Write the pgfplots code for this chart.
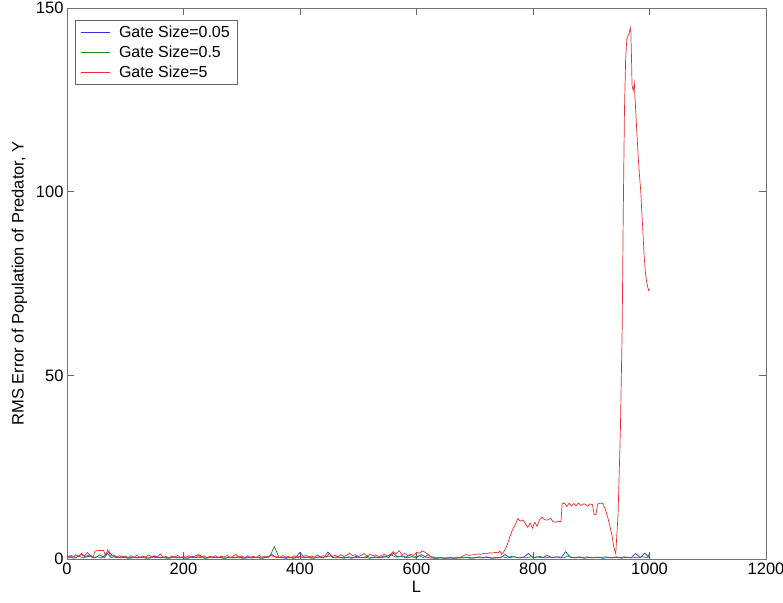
\documentclass[border=0pt]{standalone}
\usepackage{fontspec}
\setmainfont{Liberation Sans}
\usepackage{pgfplots}
\pgfplotsset{compat=1.18}

\definecolor{mblue}{RGB}{50,50,230}
\definecolor{mgreen}{RGB}{20,140,40}
\definecolor{mred}{RGB}{235,45,45}
\newcommand{\lblfont}{\fontsize{16.5}{19}\selectfont}
\newcommand{\legfont}{\fontsize{16}{19}\selectfont}

\begin{document}
\begin{tikzpicture}
  \begin{axis}[
    name=ax,
    scale only axis,
    width=699pt, height=551pt,
    xmin=0, xmax=1200, ymin=0, ymax=150,
    xtick={0,200,...,1200},
    ytick={0,50,100,150},
    xtick pos=both, ytick pos=both,
    tick align=inside,
    major tick length=7pt,
    axis line style={black!55, line width=0.8pt},
    every tick/.style={black!60, line width=0.8pt},
    /pgf/number format/assume math mode=true,
    /pgf/number format/1000 sep={},
    tick label style={font=\lblfont},
    label style={font=\lblfont},
    xlabel={L},
    ylabel={RMS Error of Population of Predator, Y},
    ylabel style={yshift=2pt},
    legend style={at={(0.0115,0.978)}, anchor=north west, draw=black!60,
      font=\legfont, row sep=2.5pt, inner xsep=5pt, inner ysep=4pt},
    legend cell align=left,
    legend image code/.code={\draw[#1, line width=0.9pt] (3pt,0pt) -- (32pt,0pt); \path (39pt,0pt);},
  ]
    % Gate Size = 0.05
    \addplot[mblue, line width=0.7pt] coordinates {
      (0,0.3) (8,0.9) (16,0.4) (24,1.3) (32,0.5) (40,0.8) (48,0.3) (56,1.1) (64,0.4) (72,2.0)
      (80,0.6) (88,0.3) (96,0.7) (104,0.2) (112,0.5) (120,0.3) (128,0.6) (136,0.2) (144,0.4) (152,0.8)
      (160,0.3) (168,0.5) (176,0.2) (184,0.6) (192,0.3) (200,0.4) (208,0.2) (216,0.7) (224,0.3) (232,0.5)
      (240,0.2) (248,0.6) (256,0.3) (264,0.4) (272,0.2) (280,0.5) (288,0.3) (296,0.6) (304,0.2) (312,0.4)
      (320,0.3) (328,0.5) (336,0.2) (344,0.6) (352,1.2) (360,0.3) (368,0.5) (376,0.2) (384,0.4) (392,0.3)
      (400,1.8) (408,0.3) (416,0.5) (424,0.2) (432,0.6) (440,0.3) (448,1.9) (456,0.4) (464,0.6) (472,0.3)
      (480,0.5) (488,0.2) (496,0.7) (504,0.3) (512,0.5) (520,0.2) (528,0.6) (536,0.3) (544,0.8) (552,0.4)
      (560,1.6) (568,0.5) (576,0.9) (584,0.3) (592,0.6) (600,0.4) (608,1.2) (616,0.5) (624,0.3) (632,0.2)
      (640,0.4) (648,0.2) (656,0.3) (664,0.2) (672,0.4) (680,0.3) (688,0.5) (696,0.2) (704,0.4) (712,0.3)
      (720,0.6) (728,0.2) (736,0.4) (744,0.3) (752,1.2) (760,0.4) (768,0.6) (776,0.3) (784,0.5) (792,1.5)
      (800,0.4) (808,0.6) (816,0.3) (824,1.0) (832,0.4) (840,0.6) (848,0.3) (856,2.0) (864,0.5) (872,0.3)
      (880,0.6) (888,0.2) (896,0.4) (904,0.3) (912,0.5) (920,0.2) (928,0.4) (936,0.3) (944,0.6) (952,0.2)
      (960,0.5) (968,0.3) (976,1.5) (984,0.4) (992,1.6) (1000,0.3)
    };
    \addlegendentry{Gate Size=0.05}
    % Gate Size = 0.5
    \addplot[mgreen, line width=0.7pt] coordinates {
      (4,0.5) (12,0.2) (20,0.8) (28,0.3) (36,1.0) (44,0.4) (52,0.6) (60,0.3) (68,1.6) (76,0.4)
      (84,0.7) (92,0.3) (100,0.5) (108,0.2) (116,0.4) (124,0.3) (132,0.6) (140,0.2) (148,0.5) (156,0.3)
      (164,0.4) (172,0.2) (180,0.6) (188,0.3) (196,0.4) (204,0.2) (212,0.5) (220,0.3) (228,1.1) (236,0.2)
      (244,0.4) (252,0.3) (260,0.5) (268,0.2) (276,0.4) (284,0.3) (292,0.6) (300,0.2) (308,0.4) (316,0.3)
      (324,0.5) (332,0.2) (340,0.4) (348,0.6) (356,3.4) (364,0.4) (372,0.3) (380,0.5) (388,0.2) (396,0.4)
      (404,0.3) (412,0.5) (420,0.2) (428,0.4) (436,0.3) (444,0.6) (452,0.8) (460,0.3) (468,0.5) (476,0.2)
      (484,0.6) (492,0.3) (500,0.5) (508,0.4) (516,0.7) (524,0.3) (532,0.5) (540,0.4) (548,0.6) (556,1.2)
      (564,0.5) (572,0.8) (580,0.4) (588,1.0) (596,0.5) (604,0.9) (612,0.4) (620,1.1) (628,0.3) (636,0.2)
      (644,0.3) (652,0.2) (660,0.4) (668,0.2) (676,0.3) (684,0.5) (692,0.2) (700,0.4) (708,0.6) (716,0.3)
      (724,0.5) (732,0.2) (740,0.4) (748,0.6) (756,0.3) (764,0.8) (772,0.4) (780,0.5) (788,0.3) (796,0.6)
      (804,0.4) (812,0.7) (820,0.3) (828,0.5) (836,0.4) (844,0.6) (852,0.3) (860,0.8) (868,0.4) (876,0.5)
      (884,0.3) (892,0.6) (900,0.4) (908,0.5) (916,0.3) (924,0.6) (932,0.4) (940,0.5) (948,0.3) (956,0.6)
      (964,0.4) (972,0.5) (980,0.3) (988,0.6) (996,0.4) (1000,1.6)
    };
    \addlegendentry{Gate Size=0.5}
    % Gate Size = 5
    \addplot[mred, line width=0.7pt] coordinates {
      (1,0.6) (5,0.9) (10,0.4) (15,1.2) (20,0.7) (25,1.5) (30,0.8) (35,1.8) (40,1.0) (45,0.6)
      (48,2.2) (55,2.3) (63,2.3) (66,0.9) (70,2.5) (75,0.8) (80,1.1) (85,0.6) (90,0.9) (95,0.5)
      (100,0.8) (105,0.4) (110,0.9) (115,0.5) (120,1.0) (125,0.4) (130,0.8) (135,0.5) (140,1.1) (145,0.6)
      (150,0.9) (155,0.4) (160,1.4) (165,0.5) (170,0.7) (175,0.3) (180,0.8) (185,0.5) (190,1.0) (195,0.4)
      (200,0.7) (205,0.5) (210,0.9) (215,0.4) (220,0.8) (225,1.2) (230,0.5) (235,0.9) (240,0.4) (245,0.7)
      (250,0.5) (255,0.9) (260,0.4) (265,0.8) (270,0.5) (275,1.0) (280,0.4) (285,0.7) (290,1.3) (295,0.5)
      (300,0.8) (305,0.4) (310,0.9) (315,0.5) (320,0.7) (325,0.4) (330,1.0) (335,0.5) (340,0.8) (345,0.4)
      (350,1.1) (355,0.6) (360,0.8) (365,0.4) (370,0.9) (375,0.5) (380,0.7) (385,0.4) (390,0.9) (395,0.5)
      (400,0.8) (405,0.5) (410,1.0) (415,0.6) (420,0.8) (425,0.5) (430,1.1) (435,0.6) (440,0.9) (445,0.5)
      (450,1.4) (455,0.7) (460,1.0) (465,0.6) (470,1.2) (475,0.7) (480,1.0) (485,1.6) (490,0.9) (495,1.2)
      (500,0.7) (505,1.0) (510,1.5) (515,0.8) (520,1.3) (525,0.9) (530,1.1) (535,0.6) (540,1.0) (545,1.3)
      (550,0.8) (555,1.2) (560,2.0) (565,1.4) (570,2.3) (575,1.2) (580,1.5) (585,0.9) (590,1.3) (595,1.0)
      (600,1.8) (605,1.6) (610,2.2) (615,1.8) (620,1.2) (625,0.6) (630,0.5) (635,0.3) (640,0.4) (645,0.3)
      (650,0.3) (655,0.4) (660,0.3) (665,0.3) (670,0.5) (675,0.4) (680,0.9) (685,1.2) (690,1.0) (695,1.1)
      (700,1.2) (705,1.4) (710,1.3) (715,1.5) (720,1.4) (725,1.7) (730,1.6) (735,1.8) (740,1.7) (743,2.2)
      (746,1.3) (750,2.0) (755,3.5) (760,6.0) (765,8.0) (770,9.5) (774,11.0) (778,10.3) (783,10.6) (787,9.6)
      (791,8.6) (795,9.8) (799,8.4) (803,10.0) (807,8.9) (811,10.6) (815,11.4) (820,10.7) (825,10.6) (830,11.1)
      (834,10.2) (839,10.0) (844,10.3) (848,10.1) (850,15.0) (854,15.3) (858,14.3) (862,15.2) (866,14.4) (870,15.1)
      (874,14.5) (878,15.2) (882,14.6) (886,15.0) (890,14.9) (894,14.4) (898,15.0) (902,14.8) (905,12.2) (908,12.0)
      (911,15.0) (916,15.2) (920,15.1) (924,13.5) (928,11.5) (932,9.0) (936,6.0) (939,3.0) (942,1.5) (946,12.0)
      (950,35.0) (953,62.0) (955,95.0) (957,122.0) (959,136.0) (961,141.5) (963,142.5) (965,143.0) (967,144.6) (968,143.5)
      (969,137.0) (970,129.0) (972,127.5) (974,129.5) (975,126.0) (977,120.0) (979,114.0) (981,108.5) (983,104.0) (985,100.0)
      (987,94.0) (989,88.0) (991,82.0) (993,78.0) (995,75.5) (997,74.0) (999,73.0) (1000,73.5)
    };
    \addlegendentry{Gate Size=5}
  \end{axis}
  \pgfresetboundingbox
  \path ([shift={(-67pt,-43pt)}]ax.south west) rectangle ([shift={(17pt,8pt)}]ax.north east);
\end{tikzpicture}
\end{document}
